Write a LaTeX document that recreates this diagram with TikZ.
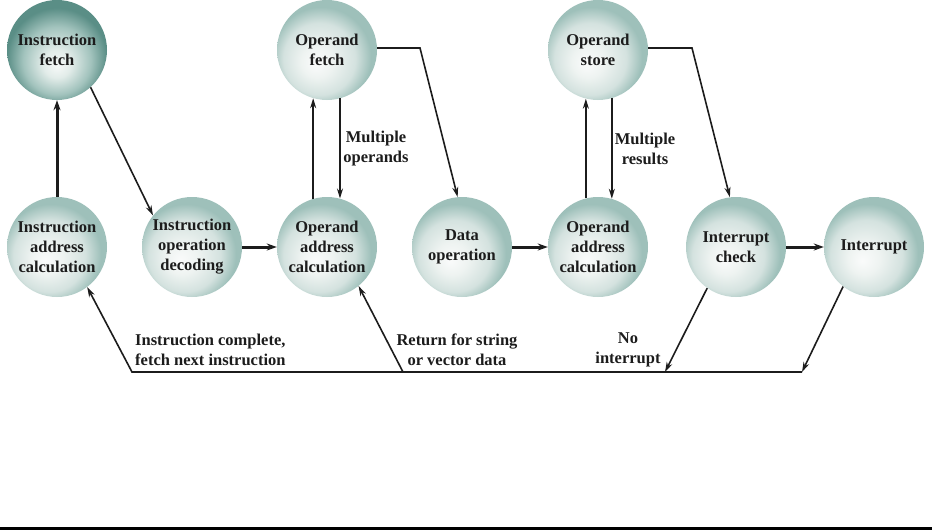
\documentclass[tikz,border=0pt]{standalone}
\usepackage{fontspec}
\setmainfont{Liberation Serif}
\usetikzlibrary{arrows.meta}
\definecolor{inkc}{RGB}{28,28,28}
% light sphere-like fill for the stage circles, glow slightly low and left
\pgfdeclareradialshading{stageshade}{\pgfpoint{-6bp}{-7bp}}{%
  color(0bp)=(rgb,255:red,250;green,251;blue,251);
  color(8bp)=(rgb,255:red,238;green,243;blue,241);
  color(18bp)=(rgb,255:red,212;green,226;blue,223);
  color(25bp)=(rgb,255:red,158;green,192;blue,186);
  color(50bp)=(rgb,255:red,158;green,192;blue,186)}
% darker variant for the fetch stage, glow below the text
\pgfdeclareradialshading{fetchshade}{\pgfpoint{0bp}{-8bp}}{%
  color(0bp)=(rgb,255:red,246;green,249;blue,248);
  color(7bp)=(rgb,255:red,226;green,236;blue,233);
  color(17bp)=(rgb,255:red,162;green,195;blue,189);
  color(25bp)=(rgb,255:red,90;green,142;blue,134);
  color(50bp)=(rgb,255:red,90;green,142;blue,134)}
\tikzset{
  stage/.style={circle, minimum size=100pt, inner sep=0pt, align=center,
    shading=stageshade, text=inkc,
    font=\fontsize{16.5}{20}\selectfont\bfseries},
  darkstage/.style={stage, shading=fetchshade},
  lbl/.style={align=center, text=inkc, inner sep=0pt,
    font=\fontsize{16.5}{20}\selectfont\bfseries},
  flow/.style={line width=1.6pt, draw=inkc, -{Stealth[length=10pt,width=6pt]}},
  bold/.style={line width=3pt, draw=inkc, -{Stealth[length=10pt,width=7pt]}}
}
\begin{document}
\begin{tikzpicture}[x=1pt,y=-1pt]
\useasboundingbox (0,0) rectangle (932,530);

% instruction and operand stages
\node[darkstage] (ifetch) at (57,50)  {Instruction\\fetch};
\node[stage] (ofetch) at (327,50) {Operand\\fetch};
\node[stage] (ostore) at (598,50) {Operand\\store};

\node[stage] (iac)   at (57,247)  {Instruction\\address\\calculation};
\node[stage] (iod)   at (192,247) {Instruction\\operation\\decoding};
\node[stage] (oac1)  at (327,247) {Operand\\address\\calculation};
\node[stage] (data)  at (462,247) {Data\\operation};
\node[stage] (oac2)  at (598,247) {Operand\\address\\calculation};
\node[stage] (icheck) at (736,247) {Interrupt\\check};
\node[stage] (intr)  at (874,247) {Interrupt};

% bend and junction points
\coordinate (fk) at (420,48);
\coordinate (sk) at (692,48);
\coordinate (n1) at (665,372);
\coordinate (n2) at (802,372);
\coordinate (b1) at (132,372);
\coordinate (b2) at (403,372);

% main cycle
\draw[bold] (iac.north) -- (ifetch.south);
\draw[flow] (ifetch.-48) -- (iod.141);
\draw[bold] (iod.east) -- (oac1.west);
\draw[flow] (oac1.106) -- (ofetch.254);
\draw[flow] (ofetch.-75) -- (oac1.75);
\draw[flow] (ofetch.east |- fk) -- (fk) -- (data.95);
\draw[bold] (data.east) -- (oac2.west);
\draw[flow] (oac2.104) -- (ostore.256);
\draw[flow] (ostore.-74) -- (oac2.74);
\draw[flow] (ostore.east |- sk) -- (sk) -- (icheck.97);
\draw[bold] (icheck.east) -- (intr.west);
\draw[flow] (icheck.-125) -- (n1);
\draw[flow] (intr.-128) -- (n2);
\draw[flow, line join=miter] (n2) -- (b1) -- (iac.-53);
\draw[flow] (b2) -- (oac1.-51);

% labels
\node[lbl] (mops) at (376,149) {Multiple\\operands};
\node[lbl] (mres) at (645,149) {Multiple\\results};
\node[lbl, anchor=west, align=left] (done) at (135,350) {Instruction complete,\\fetch next instruction};
\node[lbl] (ret) at (457,350) {Return for string\\or vector data};
\node[lbl] (noint) at (628,350) {No\\interrupt};

% rule under the figure
\fill[black] (0,527) rectangle (932,530);
\end{tikzpicture}
\end{document}
